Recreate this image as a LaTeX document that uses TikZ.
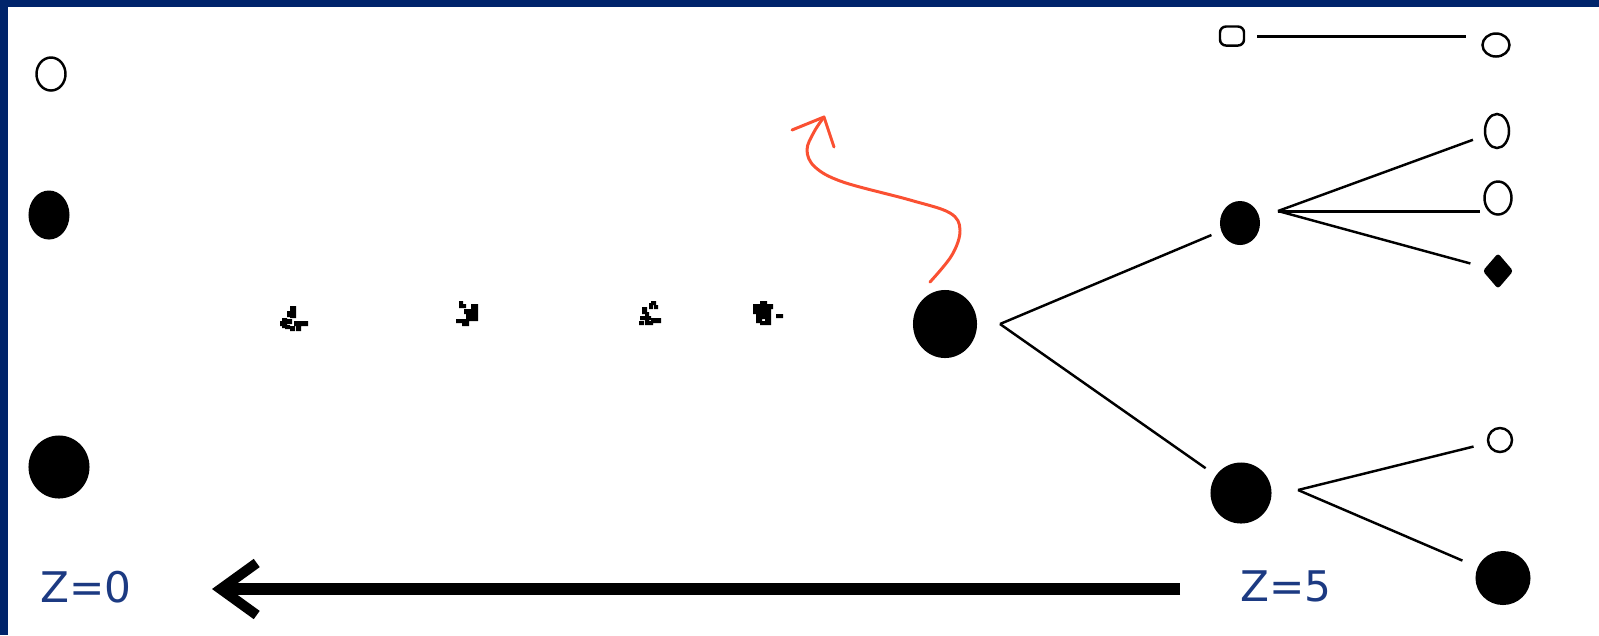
\documentclass[tikz,border=0pt]{standalone}
\usepackage{fontspec}
\setmainfont{DejaVu Sans}
\usepackage{tikz}
\usetikzlibrary{shapes.geometric,arrows.meta,positioning}
\definecolor{navy}{RGB}{0,36,107}
\definecolor{zblue}{RGB}{28,58,130}
\definecolor{wavec}{RGB}{250,80,50}

\begin{document}
\begin{tikzpicture}[
  x=0.01cm, y=-0.01cm,
  open/.style={draw,ellipse,line width=0.7pt,inner sep=0pt},
  full/.style={fill,ellipse,inner sep=0pt},
  zlab/.style={text=zblue,font=\fontsize{12}{14}\selectfont,inner sep=0pt},
  br/.style={line width=0.7pt},
  wave/.style={draw=wavec,line width=0.85pt,line cap=round,line join=round},
  bigar/.style={line width=3.4pt,-{Straight Barb[length=0.36cm,width=0.52cm,line width=2.9pt]}}
]
\useasboundingbox (0,0) rectangle (1599,635);
\fill[navy] (0,0) rectangle (1599,7);
\fill[navy] (0,0) rectangle (8,635);
% left column
\node[open,minimum width=0.29cm,minimum height=0.33cm] (lo) at (51,74) {};
\node[full,minimum width=0.41cm,minimum height=0.49cm] (lf) at (49,215) {};
\node[full,minimum width=0.61cm,minimum height=0.63cm] (lb) at (59,467) {};
% tree
\node[full,minimum width=0.64cm,minimum height=0.68cm] (gmid) at (945,324) {};
\node[full,minimum width=0.40cm,minimum height=0.44cm] (gtop) at (1240,223) {};
\node[full,minimum width=0.61cm,minimum height=0.61cm] (gbot) at (1241,493) {};
\node[draw,rectangle,rounded corners=0.06cm,line width=0.7pt,minimum width=0.24cm,minimum height=0.19cm,inner sep=0pt] (sq) at (1232,36) {};
\node[open,minimum width=0.27cm,minimum height=0.23cm] (c1) at (1496,45) {};
\node[open,minimum width=0.24cm,minimum height=0.34cm] (e1) at (1497,131) {};
\node[open,minimum width=0.27cm,minimum height=0.33cm] (e2) at (1498,198) {};
\node[fill,diamond,rounded corners=0.03cm,inner sep=0pt,minimum width=0.31cm,minimum height=0.36cm] (d1) at (1498,271) {};
\node[open,minimum width=0.24cm,minimum height=0.24cm] (o2) at (1500,440) {};
\node[full,minimum width=0.55cm,minimum height=0.54cm] (gbr) at (1503,578) {};
\coordinate (f1) at (1000,324);
\coordinate (f2) at (1278,211);
\coordinate (f3) at (1298,490);
\draw[br,shorten >=0.1cm] (f1) -- (gtop);
\draw[br,shorten >=0.12cm] (f1) -- (gbot);
\draw[br,shorten >=0.12cm] (f2) -- (e1);
\draw[br,line width=0.85pt,shorten >=0.03cm] (f2) -- (f2 -| e2.west);
\draw[br,shorten >=0.15cm] (f2) -- (d1);
\draw[br,shorten >=0.14cm] (f3) -- (o2);
\draw[br,shorten >=0.16cm] (f3) -- (gbr);
\draw[line width=0.85pt,shorten <=0.12cm,shorten >=0.15cm] (sq.east) -- (sq.east -| c1.west);
% galaxies
\fill (290,306) rectangle (296,318) (287,311) rectangle (296,317) (280,321) rectangle (285,326)
  (282,318) rectangle (287,328) (285,319) rectangle (292,324) (294,321) rectangle (308,326)
  (296,324) rectangle (301,331) (290,326) rectangle (295,331) (285,325) rectangle (290,329);
\fill (459,301) rectangle (463,305) (459,304) rectangle (466,308) (471,304) rectangle (478,321)
  (464,309) rectangle (473,314) (456,319) rectangle (468,323) (462,321) rectangle (469,326)
  (466,314) rectangle (473,321);
\fill (651,301) rectangle (656,305) (649,303) rectangle (653,309) (654,305) rectangle (658,309)
  (642,307) rectangle (647,314) (645,312) rectangle (649,318) (640,316) rectangle (651,320)
  (645,318) rectangle (649,325) (639,321) rectangle (644,325) (651,318) rectangle (661,323)
  (649,321) rectangle (653,325);
\fill (760,301) rectangle (767,305) (753,304) rectangle (773,309) (753,307) rectangle (771,314)
  (756,312) rectangle (762,323) (762,312) rectangle (771,319) (760,321) rectangle (767,325)
  (765,318) rectangle (771,325) (776,314) rectangle (783,318);
% wave
\coordinate (wtip) at (824,117);
\draw[wave] plot[smooth,tension=0.6] coordinates {(930,282) (952,255) (960,230) (950,213) (910,200) (843,182) (815,167) (807,150) (814,132) (wtip)};
\draw[wave] (792,130) -- (wtip) -- (834,147);
% redshift axis
\node[zlab] (z0) at (86,587) {Z=0};
\node[zlab] (z5) at (1286,586) {Z=5};
\coordinate (atail) at (1180,589);
\coordinate (ahead) at (212,589);
\draw[bigar] (atail) -- (ahead);
\end{tikzpicture}
\end{document}
